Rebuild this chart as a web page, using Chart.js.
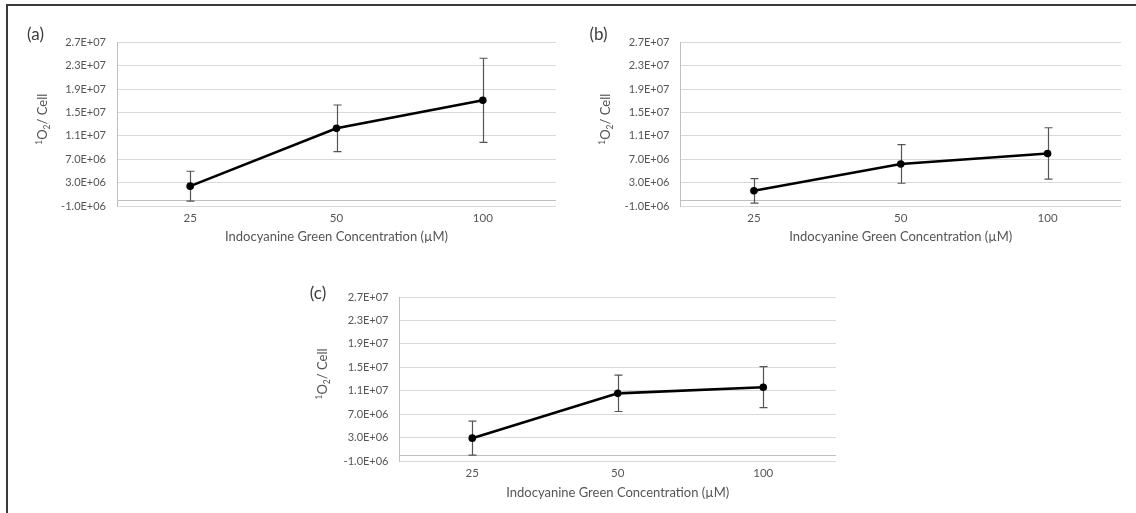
<!DOCTYPE html>
<html>
<head>
  <meta charset="utf-8">
  <title>Singlet oxygen per cell</title>
  <script src="https://cdn.jsdelivr.net/npm/chart.js@4.4.0/dist/chart.umd.min.js"></script>
  <style>
    body { margin: 0; background: #fff; width: 1136px; height: 513px; overflow: hidden; position: relative; }
    #frame { position: absolute; left: 6px; top: 4px; width: 1200px; height: 600px;
             border-top: 2px solid #3a3a3a; border-left: 2px solid #3a3a3a; }
    .panel { position: absolute; }
  </style>
</head>
<body>
  <div id="frame"></div>
  <div class="panel" id="boxA" style="left:0px;top:0px"><canvas id="chartA" width="560" height="255"></canvas></div>
  <div class="panel" id="boxB" style="left:560px;top:0px"><canvas id="chartB" width="576" height="255"></canvas></div>
  <div class="panel" id="boxC" style="left:280px;top:256px"><canvas id="chartC" width="560" height="255"></canvas></div>

  <script>
    // ICG concentrations (uM) on the x axis
    const categories = ['25', '50', '100'];

    // singlet oxygen per cell, mean and error for each panel
    const meansA = [2.4e6, 12.3e6, 17.1e6];
    const errA = [2.55e6, 4.0e6, 7.2e6];
    const meansB = [1.6e6, 6.2e6, 8.0e6];
    const errB = [2.1e6, 3.3e6, 4.4e6];
    const meansC = [2.9e6, 10.55e6, 11.6e6];
    const errC = [2.9e6, 3.1e6, 3.5e6];

    // value axis range, same on all three
    const yMin = -1e6;
    const yMax = 2.7e7;
    const yStep = 4e6;

    const xTitle = 'Indocyanine Green Concentration (\u00B5M)';

    const FONT = 'Lato, "Open Sans", sans-serif';
    const GREY = '#555555';

    // Excel style numbers: 2.7E+07
    function sci(v) {
      const parts = Number(v).toExponential(1).split('e');
      const sign = parts[1][0] === '-' ? '-' : '+';
      const digits = parts[1].replace(/[+-]/, '').padStart(2, '0');
      return parts[0] + 'E' + sign + digits;
    }

    // error bars + the horizontal axis line at zero, under the line
    const errorBars = {
      id: 'errorBars',
      beforeDatasetsDraw(chart, args, opts) {
        const ctx = chart.ctx;
        const x = chart.scales.x, y = chart.scales.y;
        const area = chart.chartArea;
        ctx.save();
        ctx.strokeStyle = '#bfbfbf';
        ctx.lineWidth = 1;
        const y0 = Math.round(y.getPixelForValue(0)) + 0.5;
        ctx.beginPath();
        ctx.moveTo(area.left, y0);
        ctx.lineTo(area.right, y0);
        ctx.stroke();

        const data = chart.data.datasets[0].data;
        ctx.strokeStyle = '#555';
        ctx.lineWidth = 1.2;
        data.forEach(function (v, i) {
          const px = Math.round(x.getPixelForValue(i)) + 0.5;
          const top = y.getPixelForValue(v + opts.errors[i]);
          const bot = y.getPixelForValue(v - opts.errors[i]);
          ctx.beginPath();
          ctx.moveTo(px, top); ctx.lineTo(px, bot);
          ctx.moveTo(px - 4, top); ctx.lineTo(px + 4, top);
          ctx.moveTo(px - 4, bot); ctx.lineTo(px + 4, bot);
          ctx.stroke();
        });
        ctx.restore();
      }
    };

    // panel letter and the rotated y title with super/subscripts
    const panelText = {
      id: 'panelText',
      afterDraw(chart, args, opts) {
        const ctx = chart.ctx;
        const y = chart.scales.y;
        ctx.save();
        ctx.fillStyle = '#3c3c3c';
        ctx.font = '17px ' + FONT;
        ctx.textAlign = 'center';
        ctx.textBaseline = 'middle';
        ctx.fillText(opts.letter, opts.letterX, opts.letterY);

        const pieces = [
          { t: '1', size: 8.5, dy: -5 },
          { t: 'O', size: 13, dy: 0 },
          { t: '2', size: 8.5, dy: 3 },
          { t: '/ Cell', size: 13, dy: 0 }
        ];
        let total = 0;
        pieces.forEach(function (p) {
          ctx.font = p.size + 'px ' + FONT;
          p.w = ctx.measureText(p.t).width;
          total += p.w;
        });
        ctx.translate(opts.titleX, (y.top + y.bottom) / 2 - 5);
        ctx.rotate(-Math.PI / 2);
        ctx.fillStyle = GREY;
        ctx.textAlign = 'left';
        ctx.textBaseline = 'alphabetic';
        let cx = -total / 2;
        pieces.forEach(function (p) {
          ctx.font = p.size + 'px ' + FONT;
          ctx.fillText(p.t, cx, 4.5 + p.dy);
          cx += p.w;
        });
        ctx.restore();
      }
    };

    function makePanel(canvasId, means, errors, box) {
      const canvas = document.getElementById(canvasId);
      return new Chart(canvas, {
        type: 'line',
        data: {
          labels: categories,
          datasets: [{
            data: means,
            borderColor: '#000',
            backgroundColor: '#000',
            borderWidth: 2.6,
            pointRadius: 3.8,
            pointBackgroundColor: '#000',
            pointBorderWidth: 0,
            tension: 0,
            fill: false
          }]
        },
        options: {
          responsive: false,
          animation: false,
          layout: {
            padding: { top: box.plotTop, right: canvas.width - box.plotRight, bottom: 0, left: 0 }
          },
          plugins: {
            legend: { display: false },
            tooltip: { enabled: false },
            errorBars: { errors: errors },
            panelText: { letter: box.letter, letterX: box.letterX, letterY: box.letterY, titleX: box.titleX }
          },
          scales: {
            x: {
              type: 'category',
              offset: true,
              grid: { display: false, drawTicks: false },
              border: { display: false },
              ticks: { color: GREY, font: { family: FONT, size: 11.5 }, padding: 5 },
              title: {
                display: true, text: xTitle, color: GREY,
                font: { family: FONT, size: 13 }, padding: { top: 0, bottom: 10 }
              },
              afterFit: function (s) { s.height = canvas.height - box.plotBottom; }
            },
            y: {
              min: yMin,
              max: yMax,
              grid: { color: '#d9d9d9', drawTicks: false, lineWidth: 1 },
              border: { display: true, color: '#bfbfbf' },
              ticks: {
                stepSize: yStep, color: GREY, padding: 11,
                font: { family: FONT, size: 11 },
                callback: function (v) { return sci(v); }
              },
              afterFit: function (s) { s.width = box.plotLeft; }
            }
          }
        },
        plugins: [errorBars, panelText]
      });
    }

    makePanel('chartA', meansA, errA, {
      plotLeft: 117, plotRight: 557, plotTop: 42.5, plotBottom: 206,
      letter: '(a)', letterX: 35.5, letterY: 35, titleX: 42
    });
    makePanel('chartB', meansB, errB, {
      plotLeft: 120.5, plotRight: 561, plotTop: 42.5, plotBottom: 206,
      letter: '(b)', letterX: 38.5, letterY: 35, titleX: 45
    });
    makePanel('chartC', meansC, errC, {
      plotLeft: 119.5, plotRight: 558, plotTop: 41, plotBottom: 205,
      letter: '(c)', letterX: 38, letterY: 38, titleX: 42
    });
  </script>
</body>
</html>
